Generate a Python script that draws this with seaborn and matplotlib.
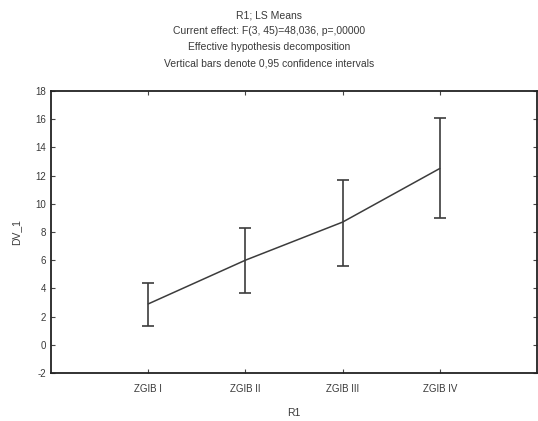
import numpy as np
import matplotlib
matplotlib.use('Agg')
import matplotlib.pyplot as plt
import seaborn as sns

# LS means per group with 0.95 confidence limits
groups = ['ZGIB I', 'ZGIB II', 'ZGIB III', 'ZGIB IV']
means = [2.9, 6.0, 8.7, 12.5]
ci_low = [1.35, 3.7, 5.6, 9.0]
ci_high = [4.35, 8.3, 11.7, 16.1]

titles = ['R1; LS Means',
          'Current effect: F(3, 45)=48,036, p=,00000',
          'Effective hypothesis decomposition',
          'Vertical bars denote 0,95 confidence intervals']
yticks = list(range(-2, 19, 2))

sns.set_style('white')
plt.rcParams['font.family'] = ['Liberation Sans', 'DejaVu Sans']
txt = '#3a3a3a'

fig = plt.figure(figsize=(5.38, 4.21), dpi=100)
ax = fig.add_axes([0.095, 0.114, 0.903, 0.670])

sns.pointplot(x=groups, y=means, ax=ax, color='#3c3c3c', markers='',
              linewidth=1.1, errorbar=None)
lower = np.array(means) - np.array(ci_low)
upper = np.array(ci_high) - np.array(means)
ax.errorbar(np.arange(len(groups)), means, yerr=[lower, upper], fmt='none',
            ecolor='#3c3c3c', elinewidth=1.2, capsize=4, capthick=1.2)

ax.set_xlim(-1, 4)
ax.set_ylim(-2, 18)
ax.set_yticks(yticks)
ax.set_yticklabels([str(t) for t in yticks])
for s in ax.spines.values():
    s.set_visible(True)
    s.set_color('#222222')
    s.set_linewidth(1.3)
ax.tick_params(direction='in', length=3, width=0.8, colors='#444444',
               labelcolor=txt, labelsize=7, left=True, right=True,
               bottom=True, top=True)
ax.set_xlabel('R1', fontsize=7.5, color=txt, labelpad=10)
ax.set_ylabel('DV_1', fontsize=7.5, color=txt, labelpad=10)
ax.tick_params(axis='x', pad=8)

for i, t in enumerate(titles):
    fig.text(0.5, 1 - (15.5 + 16 * i) / 421, t, ha='center', va='center',
             fontsize=7.5, color=txt)

fig.savefig('out.png', dpi=100)
